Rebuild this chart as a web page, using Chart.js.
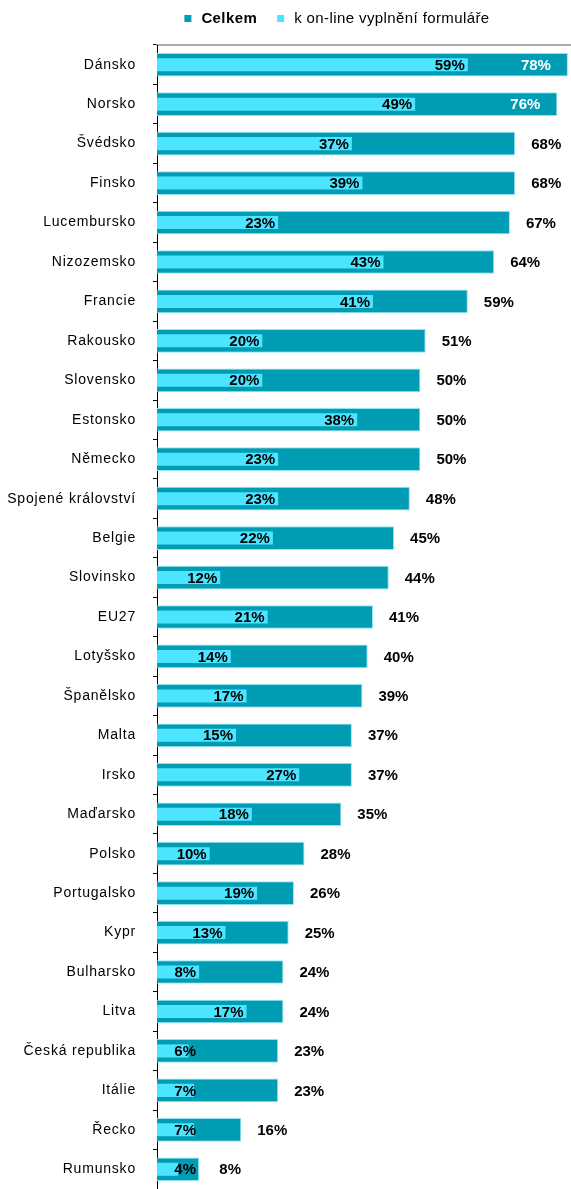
<!DOCTYPE html>
<html>
<head>
<meta charset="utf-8">
<script src="https://cdn.jsdelivr.net/npm/chart.js@4/dist/chart.umd.min.js"></script>
<style>
  html, body { margin: 0; padding: 0; background: #fff; overflow: hidden; }
  canvas { display: block; }
</style>
</head>
<body>
<canvas id="chart" width="571" height="1189"></canvas>
<script>
var countries = ['Dánsko', 'Norsko', 'Švédsko', 'Finsko', 'Lucembursko', 'Nizozemsko', 'Francie',
  'Rakousko', 'Slovensko', 'Estonsko', 'Německo', 'Spojené království', 'Belgie', 'Slovinsko',
  'EU27', 'Lotyšsko', 'Španělsko', 'Malta', 'Irsko', 'Maďarsko', 'Polsko', 'Portugalsko',
  'Kypr', 'Bulharsko', 'Litva', 'Česká republika', 'Itálie', 'Řecko', 'Rumunsko']
var celkem = [78, 76, 68, 68, 67, 64, 59, 51, 50, 50, 50, 48, 45, 44, 41, 40, 39, 37, 37, 35,
  28, 26, 25, 24, 24, 23, 23, 16, 8]
var online = [59, 49, 37, 39, 23, 43, 41, 20, 20, 38, 23, 23, 22, 12, 21, 14, 17, 15, 27, 18,
  10, 19, 13, 8, 17, 6, 7, 7, 4]
var seriesNames = ['Celkem', 'k on-line vyplnění formuláře']

var dark = '#009cb4'
var light = '#4de4ff'
var font = '"Liberation Sans", Arial, sans-serif'

// the original text is a bit letter-spaced; canvas resize resets it, so set it each time
var spacingPlugin = {
  id: 'spacing',
  beforeUpdate(chart) { chart.ctx.letterSpacing = '0.8px' },
  beforeDraw(chart) { chart.ctx.letterSpacing = '0.8px' }
}

// legend: first entry bold, placed like the original
var legendPlugin = {
  id: 'myLegend',
  afterDraw(chart) {
    var c = chart.ctx
    c.save()
    c.letterSpacing = '0.4px'
    c.textBaseline = 'middle'
    c.textAlign = 'left'
    var fonts = ['bold 15px ' + font, '15px ' + font]
    var colors = [dark, light]
    var widths = seriesNames.map(function (t, i) { c.font = fonts[i]; return c.measureText(t).width })
    var total = 7 + 10 + widths[0] + 20 + 7 + 10 + widths[1]
    var x = 337 - total / 2
    seriesNames.forEach(function (t, i) {
      c.fillStyle = colors[i]
      c.fillRect(x, 15, 7, 7)
      x += 17
      c.font = fonts[i]
      c.fillStyle = '#000'
      c.fillText(t, x, 19)
      x += widths[i] + 20
    })
    c.restore()
  }
}

// value labels drawn next to / inside the bars
var labelPlugin = {
  id: 'labels',
  afterDatasetsDraw(chart) {
    var c = chart.ctx
    var x = chart.scales.x
    c.save()
    c.letterSpacing = '0px'
    c.font = 'bold 15px ' + font
    c.textBaseline = 'middle'
    chart.getDatasetMeta(0).data.forEach(function (bar, i) {
      var end = x.getPixelForValue(celkem[i])
      c.textAlign = 'center'
      if (celkem[i] > 70) {
        c.fillStyle = '#fff'
        c.fillText(celkem[i] + '%', end - 32, bar.y + 1)
      } else {
        c.fillStyle = '#000'
        c.fillText(celkem[i] + '%', end + 31, bar.y + 1)
      }
    })
    chart.getDatasetMeta(1).data.forEach(function (bar, i) {
      var end = Math.max(x.getPixelForValue(online[i]) - 3, 196)
      c.textAlign = 'right'
      c.fillStyle = '#000'
      c.fillText(online[i] + '%', end, bar.y + 1)
    })
    c.restore()
  }
}

new Chart(document.getElementById('chart'), {
  type: 'bar',
  data: {
    labels: countries,
    datasets: [{
      label: seriesNames[0],
      data: celkem,
      backgroundColor: dark,
      borderColor: '#8ee6f2',
      borderWidth: 1,
      barPercentage: 0.6,
      categoryPercentage: 1,
      grouped: false,
      order: 1
    }, {
      label: seriesNames[1],
      data: online,
      backgroundColor: light,
      borderWidth: 0,
      barPercentage: 0.33,
      categoryPercentage: 1,
      grouped: false,
      order: 0
    }]
  },
  options: {
    responsive: false,
    indexAxis: 'y',
    animation: false,
    layout: { padding: { top: 45, right: 1, bottom: 0, left: 0 } },
    plugins: {
      legend: { display: false },
      tooltip: { enabled: false }
    },
    scales: {
      x: {
        position: 'top',
        min: 0,
        max: 78.4,
        grid: { display: false, tickLength: 0 },
        ticks: { display: false },
        border: { color: '#aaaaaa', width: 2 }
      },
      y: {
        grid: { drawOnChartArea: false, tickLength: 4, color: '#000' },
        border: { color: '#000', width: 1 },
        ticks: {
          color: '#000',
          padding: 17,
          font: { family: font, size: 14 }
        },
        afterFit(scale) {
          scale.width = 157
          scale.paddingTop = 0
          scale.paddingBottom = 0
        }
      }
    }
  },
  plugins: [spacingPlugin, legendPlugin, labelPlugin]
})
</script>
</body>
</html>
